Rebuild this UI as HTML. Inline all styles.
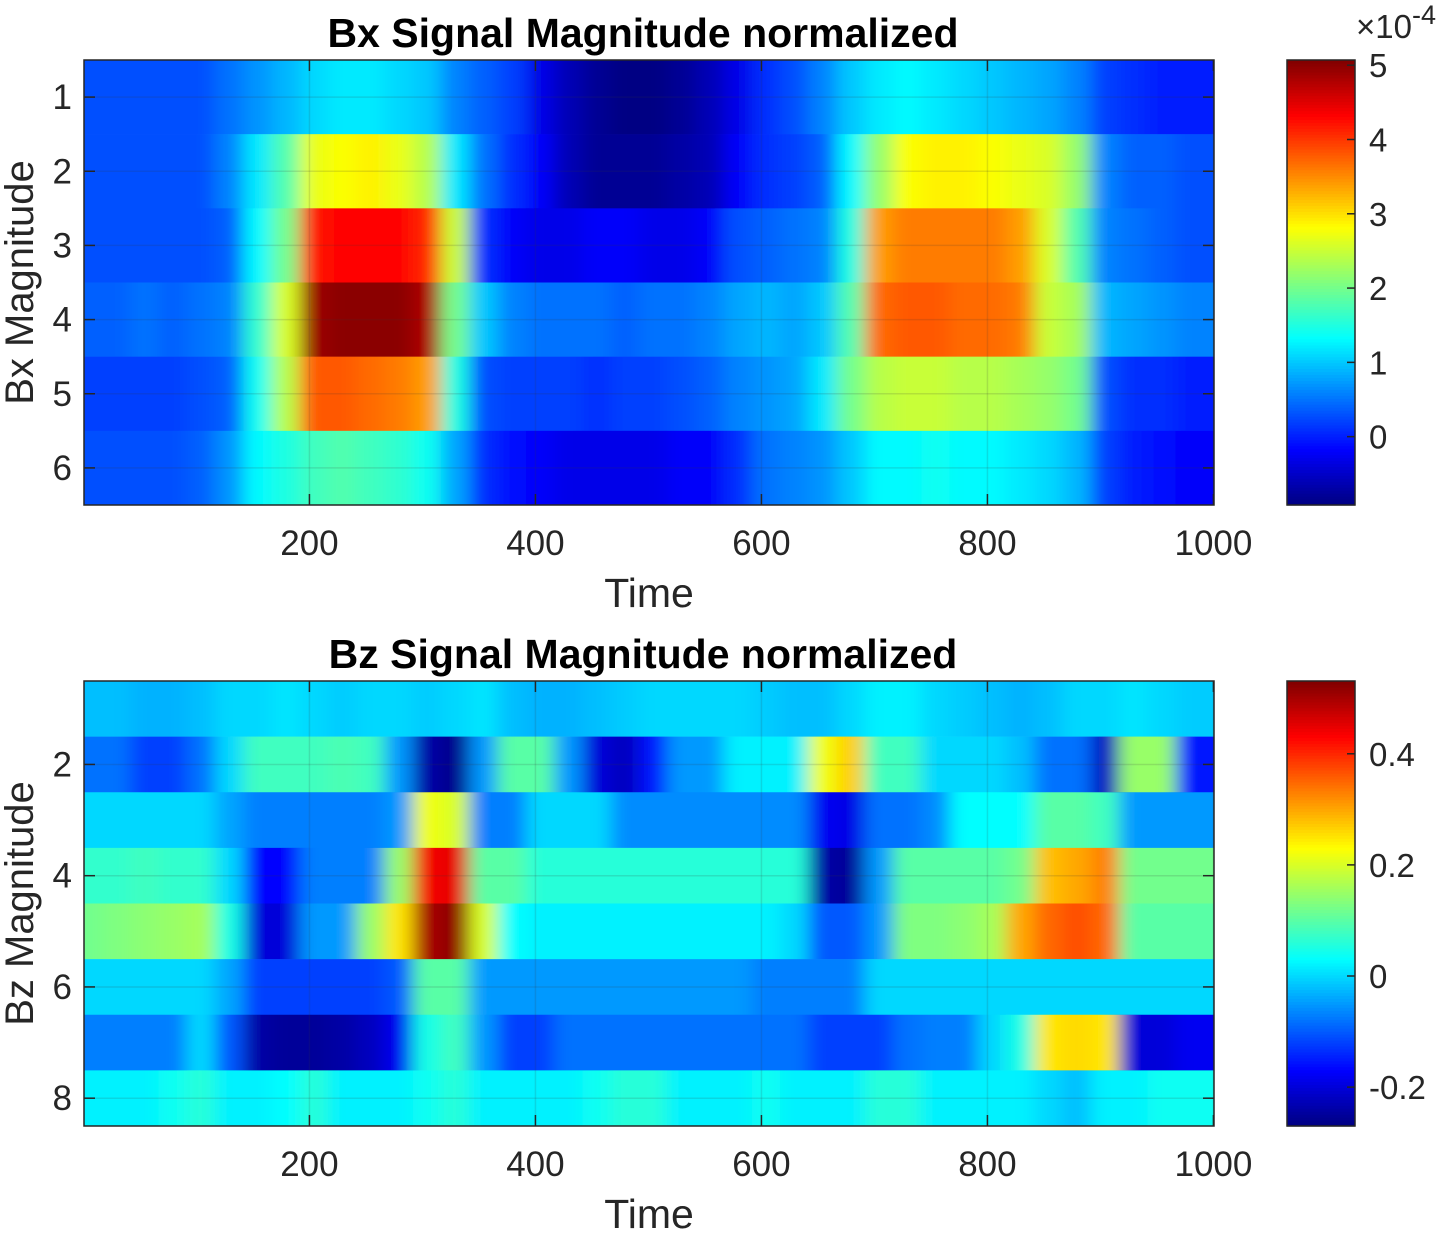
<!DOCTYPE html>
<html><head><meta charset="utf-8"><style>
body{margin:0;background:#fff;}
svg{display:block;font-family:"Liberation Sans",Arial,sans-serif;}
</style></head><body>
<svg id="chart" width="1446" height="1233" viewBox="0 0 1446 1233">
<defs>
<filter id="hblur" x="0" y="0" width="1" height="1"><feGaussianBlur stdDeviation="9 0" edgeMode="duplicate"/></filter>
<clipPath id="clipbx"><rect x="84" y="60" width="1130" height="445"/></clipPath>
<clipPath id="clipbz"><rect x="84" y="681" width="1130" height="445"/></clipPath>
</defs>
</svg>
<script>
// ---- Data: Bx (units of 1e-4), 40 time bins of 25 samples, rows 1..6
const bxRows = [1,2,3,4,5,6];
const bxData = [
[0.3,0.3,0.3,0.3,0.3,0.5,0.7,0.9,1.1,1.2,1.2,1.1,1.0,0.6,0.4,0.2,-0.3,-0.6,-0.8,-0.9,-0.9,-0.8,-0.6,-0.3,0.1,0.3,0.6,1.0,1.2,1.3,1.2,1.1,1.0,0.9,0.8,0.6,0.2,0.1,0.0,0.0],
[0.3,0.3,0.3,0.3,0.3,0.6,1.2,1.8,2.7,2.8,2.9,2.7,2.4,1.2,0.5,0.1,-0.2,-0.6,-0.8,-0.8,-0.8,-0.7,-0.6,-0.2,0.1,0.2,0.4,1.3,2.2,2.8,2.9,2.9,2.8,2.7,2.6,2.2,0.6,0.4,0.4,0.3],
[0.3,0.3,0.3,0.3,0.3,0.4,1.3,2.0,4.2,4.3,4.3,4.3,4.1,2.5,0.1,-0.2,-0.3,-0.3,-0.2,-0.2,-0.3,-0.3,-0.2,0.3,0.4,0.5,0.6,1.5,3.4,3.6,3.6,3.6,3.6,3.4,2.6,1.8,0.6,0.5,0.4,0.3],
[0.4,0.4,0.5,0.4,0.5,0.6,1.6,2.6,4.9,5.0,5.0,5.0,4.8,2.0,1.0,0.6,0.5,0.5,0.5,0.4,0.5,0.5,0.6,0.8,0.9,0.8,1.0,1.8,3.7,3.8,3.8,3.7,3.7,3.6,2.5,2.3,0.9,0.8,0.7,0.6],
[0.2,0.2,0.2,0.2,0.3,0.4,1.4,2.4,3.8,3.8,3.7,3.6,3.4,1.5,0.3,0.2,0.2,0.2,0.1,0.2,0.2,0.3,0.4,0.6,0.7,0.8,1.2,2.0,2.4,2.5,2.5,2.4,2.4,2.3,2.2,2.0,0.3,0.1,0.1,0.0],
[0.3,0.3,0.3,0.3,0.4,0.7,1.3,1.5,1.7,1.8,1.7,1.6,1.4,0.8,0.1,-0.1,-0.2,-0.3,-0.3,-0.3,-0.3,-0.2,-0.2,0.1,0.5,0.6,0.7,1.0,1.3,1.3,1.4,1.3,1.3,1.2,1.1,0.9,0.2,0.0,-0.1,-0.2]
];
const bxClim = [-0.92, 5.07];
const bxCbTicks = [0,1,2,3,4,5];
const bxYTicks = [1,2,3,4,5,6];
// ---- Data: Bz, rows 1..8
const bzRows = [1,2,3,4,5,6,7,8];
const bzData = [
[-0.02,-0.02,-0.03,-0.03,-0.02,0.0,0.0,0.01,0.0,-0.01,0.0,0.0,-0.01,0.0,0.01,-0.02,-0.03,-0.03,-0.02,-0.01,0.0,0.0,0.0,0.0,-0.01,-0.02,-0.02,0.0,0.02,0.02,0.0,-0.01,-0.02,-0.03,-0.02,0.0,0.0,0.01,0.0,-0.01],
[-0.08,-0.08,-0.12,-0.12,-0.08,0.0,0.08,0.08,0.08,0.09,0.08,-0.05,-0.24,-0.26,-0.05,0.1,0.1,-0.05,-0.2,-0.22,-0.15,-0.05,-0.05,0.02,0.02,0.02,0.22,0.27,0.08,0.08,0.0,0.0,0.0,-0.02,-0.08,-0.08,-0.22,0.15,0.15,-0.15],
[0.0,0.0,0.0,0.0,0.0,-0.04,-0.07,-0.07,-0.07,-0.07,-0.07,-0.05,0.22,0.2,-0.07,-0.07,0.0,0.0,0.0,-0.06,-0.06,-0.06,-0.06,-0.06,-0.06,-0.06,-0.18,-0.19,-0.08,-0.08,-0.06,0.03,0.03,0.03,0.1,0.1,0.08,-0.05,-0.05,-0.05],
[0.07,0.07,0.08,0.07,0.07,0.0,-0.17,-0.17,-0.07,-0.07,-0.07,0.15,0.44,0.45,0.1,0.1,0.06,0.06,0.06,0.06,0.06,0.06,0.06,0.06,0.06,0.06,-0.24,-0.25,-0.05,0.1,0.1,0.1,0.1,0.12,0.28,0.3,0.33,0.12,0.12,0.12],
[0.12,0.13,0.14,0.15,0.16,0.05,-0.2,-0.2,-0.05,-0.05,0.15,0.25,0.5,0.52,0.2,0.03,0.02,0.02,0.02,0.02,0.02,0.02,0.02,0.02,0.02,0.0,-0.1,-0.1,-0.05,0.13,0.13,0.14,0.16,0.3,0.35,0.37,0.35,0.1,0.1,0.1],
[0.0,0.0,0.0,0.0,0.0,-0.04,-0.12,-0.12,-0.12,-0.12,-0.12,-0.1,0.1,0.1,-0.05,-0.05,-0.05,-0.05,-0.05,-0.05,-0.05,-0.05,-0.05,-0.05,-0.07,-0.07,-0.07,-0.07,0.0,0.0,0.0,0.0,0.0,0.0,0.0,0.0,0.0,0.0,0.0,0.0],
[-0.07,-0.07,-0.07,-0.07,0.0,-0.1,-0.24,-0.25,-0.25,-0.24,-0.22,-0.18,0.05,0.08,-0.05,-0.12,-0.12,-0.08,-0.08,-0.08,-0.08,-0.08,-0.08,-0.08,-0.08,-0.08,-0.12,-0.12,-0.12,-0.08,-0.07,-0.07,0.0,0.05,0.25,0.26,0.25,-0.2,-0.2,-0.18],
[0.02,0.02,0.02,0.04,0.06,0.02,0.02,0.03,0.06,0.02,0.02,0.02,0.04,0.06,0.02,0.02,0.02,0.02,0.04,0.06,0.06,0.02,0.02,0.02,0.04,0.02,0.02,0.02,0.06,0.06,0.02,0.02,0.02,0.02,0.0,-0.02,0.02,0.02,0.04,0.04]
];
const bzClim = [-0.27, 0.531];
const bzCbTicks = [-0.2,0,0.2,0.4];
const bzYTicks = [2,4,6,8];
const xTicks = [200,400,600,800,1000];
const binSize = 25;
const binShift = -9;

function jet(t){
  t=Math.max(0,Math.min(1,t));
  const f=x=>Math.round(255*Math.max(0,Math.min(1,x)));
  return `rgb(${f(1.5-Math.abs(4*t-3))},${f(1.5-Math.abs(4*t-2))},${f(1.5-Math.abs(4*t-1))})`;
}
const NS="http://www.w3.org/2000/svg";
const svg=document.getElementById('chart');
function mk(tag,attrs,parent){const e=document.createElementNS(NS,tag);for(const k in attrs)e.setAttribute(k,attrs[k]);(parent||svg).appendChild(e);return e;}
function txt(s,attrs,parent){const e=mk('text',attrs,parent);e.textContent=s;return e;}

function panel(cfg){
  const {top,bottom,rows,data,clim,cbTicks,yTicks,title,ylabel,prefix,fmt}=cfg;
  const L=84,R=1214;
  const xs=t=>L+(t-0.5)*(R-L)/1000;
  const rh=(bottom-top)/rows.length;
  const ys=r=>top+(r-0.5)*rh;
  const cg0=mk('g',{'clip-path':`url(#clip${prefix})`});
  const g=mk('g',{filter:'url(#hblur)'},cg0);
  
  
  data.forEach((row,ri)=>{
    row.forEach((v,ci)=>{
      let x0=xs(ci*binSize+0.5+binShift), x1=xs((ci+1)*binSize+0.5+binShift);
      if(ci===0)x0-=30; if(ci===row.length-1)x1+=30;
      const r=mk('rect',{x:x0,y:ys(rows[ri])-rh/2,width:x1-x0+0.6,height:rh+0.3,fill:jet((v-clim[0])/(clim[1]-clim[0]))},g);
      
      
    });
  });
  xTicks.forEach(t=>{mk('line',{x1:xs(t),x2:xs(t),y1:top,y2:bottom,stroke:'#333','stroke-opacity':0.15,'stroke-width':1.5});});
  yTicks.forEach(t=>{mk('line',{x1:L,x2:R,y1:ys(t),y2:ys(t),stroke:'#333','stroke-opacity':0.15,'stroke-width':1.5});});
  const fr=mk('rect',{x:L,y:top,width:R-L,height:bottom-top,fill:'none',stroke:'#262626','stroke-width':1.5});
  
  
  xTicks.forEach(t=>{
    mk('line',{x1:xs(t),x2:xs(t),y1:bottom,y2:bottom-11,stroke:'#262626','stroke-width':1.5});
    mk('line',{x1:xs(t),x2:xs(t),y1:top,y2:top+11,stroke:'#262626','stroke-width':1.5});
    const e=txt(String(t),{x:xs(t),y:bottom+50,'font-size':35,'text-anchor':'middle',fill:'#262626'});
    
    
  });
  yTicks.forEach(t=>{
    mk('line',{x1:L,x2:L+11,y1:ys(t),y2:ys(t),stroke:'#262626','stroke-width':1.5});
    mk('line',{x1:R,x2:R-11,y1:ys(t),y2:ys(t),stroke:'#262626','stroke-width':1.5});
    const e=txt(String(t),{x:72,y:ys(t)+12,'font-size':35,'text-anchor':'end',fill:'#262626'});
    
    
  });
  let e=txt(title,{x:643,y:top-13,'font-size':41,'font-weight':'bold','text-anchor':'middle',fill:'#000'});
  
  
  e=txt('Time',{x:649,y:bottom+102,'font-size':41,'text-anchor':'middle',fill:'#262626'});
  
  
  e=txt(ylabel,{x:0,y:0,'font-size':40,'text-anchor':'middle',fill:'#262626',transform:`translate(33,${(top+bottom)/2}) rotate(-90)`});
  
  
  const cx=1287,cw=68;
  const cg=mk('g',{});
  
  
  const N=150;
  for(let i=0;i<N;i++){
    const y0=bottom-(i+1)*(bottom-top)/N;
    mk('rect',{x:cx,y:y0,width:cw,height:(bottom-top)/N+0.6,fill:jet((i+0.5)/N)},cg);
  }
  mk('rect',{x:cx,y:top,width:cw,height:bottom-top,fill:'none',stroke:'#262626','stroke-width':1.5},cg);
  const cy=v=>bottom-(v-clim[0])/(clim[1]-clim[0])*(bottom-top);
  cbTicks.forEach(v=>{
    mk('line',{x1:cx+cw,x2:cx+cw-8,y1:cy(v),y2:cy(v),stroke:'#262626','stroke-width':1.5},cg);
    const t=txt(fmt(v),{x:1369,y:cy(v)+12,'font-size':33,fill:'#262626'},cg);
    
    
  });
}
panel({top:60,bottom:505,rows:bxRows,data:bxData,clim:bxClim,cbTicks:bxCbTicks,yTicks:bxYTicks,title:'Bx Signal Magnitude normalized',ylabel:'Bx Magnitude',prefix:'bx',fmt:v=>String(v)});
panel({top:681,bottom:1126,rows:bzRows,data:bzData,clim:bzClim,cbTicks:bzCbTicks,yTicks:bzYTicks,title:'Bz Signal Magnitude normalized',ylabel:'Bz Magnitude',prefix:'bz',fmt:v=>v===0?'0':String(v)});
const ex=txt('',{x:1356,y:38,'font-size':33,fill:'#262626'});


ex.innerHTML='×10<tspan dy="-14" font-size="27">-4</tspan>';
</script>
</body></html>
